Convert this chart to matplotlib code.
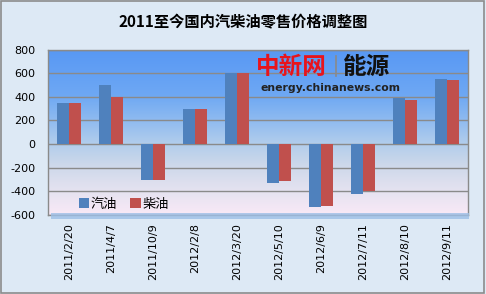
import numpy as np
import matplotlib.pyplot as plt
from matplotlib.colors import LinearSegmentedColormap
from matplotlib.patches import Rectangle

plt.rcParams['font.family'] = ['Noto Sans CJK SC', 'DejaVu Sans']

# 调价日期与幅度（元/吨）
dates = ['2011/2/20', '2011/4/7', '2011/10/9', '2012/2/8', '2012/3/20',
         '2012/5/10', '2012/6/9', '2012/7/11', '2012/8/10', '2012/9/11']
gasoline = [350, 500, -300, 300, 600, -330, -530, -420, 390, 550]
diesel = [350, 400, -300, 300, 600, -310, -520, -400, 370, 540]
yticks = [-600, -400, -200, 0, 200, 400, 600, 800]

fig = plt.figure(figsize=(4.86, 2.94), dpi=100)
fig.patch.set_facecolor('#dde9f5')
fig.patches.append(Rectangle((0.002, 0.003), 0.994, 0.993, transform=fig.transFigure,
                             fill=False, edgecolor='#8c8c8c', lw=1.2))

ax = fig.add_axes([0.0988, 0.2687, 0.8642, 0.5629])

# shadow under the plot area
fig.patches.append(Rectangle((0.104, 0.255), 0.862, 0.02, transform=fig.transFigure,
                             facecolor='#9dbfe6', edgecolor='none', alpha=0.8, zorder=0))

x = np.arange(len(dates))
w = 0.29

# gradient background
cmap = LinearSegmentedColormap.from_list('bg', [
    (0.0, '#f9e9f6'), (0.15, '#e4e2f0'), (0.3, '#cdd8ea'),
    (0.43, '#b2cdec'), (0.57, '#8fbbf0'), (0.72, '#6ea8f3'), (1.0, '#5898f4')])
grad = np.linspace(0, 1, 256).reshape(-1, 1)
ax.imshow(grad, cmap=cmap, origin='lower', aspect='auto',
          extent=[-0.5, len(dates) - 0.5, -600, 800], zorder=0)

for yv in yticks:
    ax.axhline(yv, color='#8a8a8a', lw=1, zorder=1)

b1 = ax.bar(x - w / 2, gasoline, w, color='#4f81bd', zorder=2, label='汽油')
b2 = ax.bar(x + w / 2, diesel, w, color='#c0504d', zorder=2, label='柴油')

ax.set_xlim(-0.5, len(dates) - 0.5)
ax.set_ylim(-600, 800)
ax.set_yticks(yticks)
ax.set_yticklabels([str(v) for v in yticks], fontsize=8, family='DejaVu Sans')
ax.set_xticks(x)
ax.set_xticklabels(dates, rotation=90, fontsize=8, family='DejaVu Sans')
ax.tick_params(length=0, pad=6)
ax.tick_params(axis='y', pad=9)
for s in ax.spines.values():
    s.set_color('#8a8a8a')
    s.set_linewidth(1)

ax.legend(handles=[b1, b2], loc='lower left', bbox_to_anchor=(0.045, -0.045),
          ncol=2, frameon=False, fontsize=9.5, handlelength=0.8, handleheight=0.8,
          handletextpad=0.1, columnspacing=1.0)

fig.text(0.5, 0.925, '2011至今国内汽柴油零售价格调整图', ha='center', va='center',
         fontsize=11, fontweight='bold')

# watermark logo
fig.text(0.527, 0.773, '中新网', color='#e8141c', fontsize=17, fontweight='bold',
         va='center', ha='left', style='italic')
fig.lines.append(plt.Line2D([0.692, 0.692], [0.74, 0.81], transform=fig.transFigure,
                            color='#8a8a8a', lw=1.2))
fig.text(0.706, 0.773, '能源', color='#111111', fontsize=17, fontweight='bold',
         va='center', ha='left')
fig.text(0.537, 0.7, 'energy.chinanews.com', color='#222222', fontsize=7.8,
         fontweight='bold', va='center', ha='left', family='DejaVu Sans')

fig.savefig('out.png', dpi=100, facecolor=fig.get_facecolor())
